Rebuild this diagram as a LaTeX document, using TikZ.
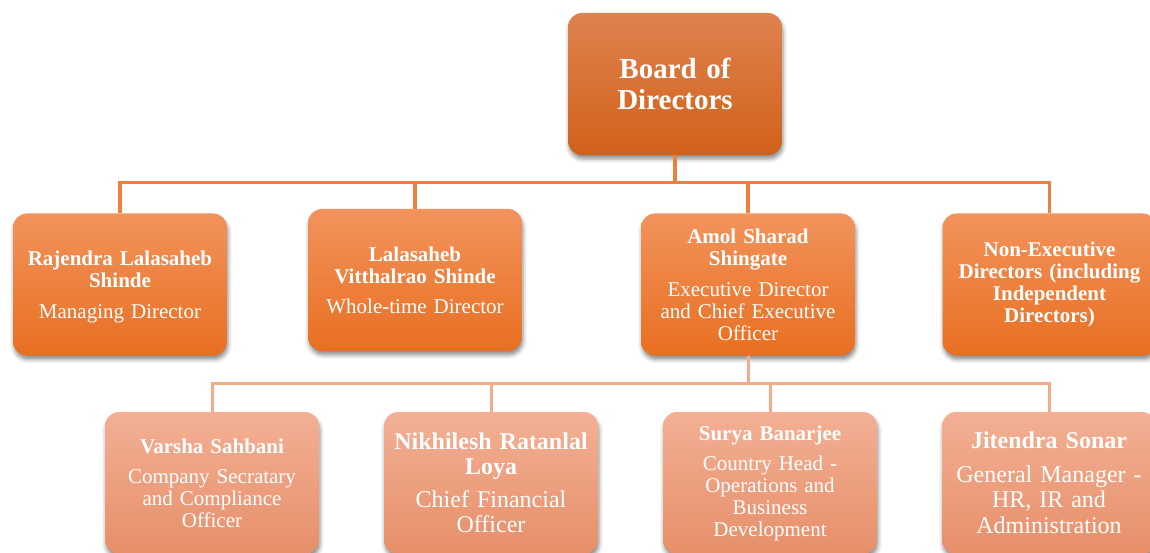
\documentclass[tikz,border=0pt]{standalone}
\usepackage{fontspec}
\setmainfont{Liberation Serif}
\usetikzlibrary{shadows.blur}
\definecolor{bodtop}{HTML}{DF824F}
\definecolor{bodbot}{HTML}{D1611A}
\definecolor{lvtop}{HTML}{F2935C}
\definecolor{lvbot}{HTML}{E86F21}
\definecolor{lwtop}{HTML}{F3B095}
\definecolor{lwbot}{HTML}{E68F69}
\definecolor{connA}{HTML}{EF7F3D}
\definecolor{connB}{HTML}{F2AC8A}
\tikzset{
  box/.style={rounded corners=14pt, minimum width=214pt, minimum height=142pt,
    inner sep=0pt, text=white, align=center, text width=200pt,
    blur shadow={shadow xshift=1pt, shadow yshift=-4pt, shadow blur radius=4pt, shadow opacity=45}},
  bodbox/.style={box, top color=bodtop, bottom color=bodbot},
  lvbox/.style={box, top color=lvtop, bottom color=lvbot, font=\fontsize{21}{22}\selectfont},
  lwbox/.style={box, top color=lwtop, bottom color=lwbot, font=\fontsize{21}{22}\selectfont},
  bigfont/.style={font=\fontsize{24}{25.5}\selectfont},
  connA/.style={draw=connA, line width=3.2pt},
  connB/.style={draw=connB, line width=3pt},
}
\begin{document}
\begin{tikzpicture}[x=1pt,y=-1pt]
\useasboundingbox (0,0) rectangle (1150,553);
% top
\node[bodbox, font=\fontsize{29}{31}\selectfont\bfseries] (bod) at (675,84) {Board of\\Directors};
% level 2
\node[lvbox] (r1) at (120,284.5) {\rule{0pt}{19pt}\textbf{Rajendra Lalasaheb}\\\textbf{Shinde}\\[9pt]Managing Director};
\node[lvbox] (r2) at (415,280) {\textbf{Lalasaheb}\\\textbf{Vitthalrao Shinde}\\[8pt]Whole-time Director};
\node[lvbox] (r3) at (748,284.5) {\textbf{Amol Sharad}\\\textbf{Shingate}\\[9pt]Executive Director\\and Chief Executive\\Officer};
\node[lvbox] (r4) at (1049.5,284.5) {\textbf{Non-Executive}\\\textbf{Directors (including}\\\textbf{Independent}\\\textbf{Directors)}};
% level 3
\node[lwbox] (s1) at (212,483) {\textbf{Varsha Sahbani}\\[8pt]Company Secratary\\and Compliance\\Officer};
\node[lwbox, bigfont] (s2) at (491,483) {\textbf{Nikhilesh Ratanlal}\\\textbf{Loya}\\[7pt]Chief Financial\\Officer};
\node[lwbox] (s3) at (770,483) {\textbf{Surya Banarjee}\\[8pt]Country Head -\\Operations and\\Business\\Development};
\node[lwbox, bigfont] (s4) at (1049,483) {\textbf{Jitendra Sonar}\\[8pt]General Manager -\\HR, IR and\\Administration};
% connectors level 1 -> 2
\coordinate (j1) at (675,182.5);
\draw[connA] (bod.south) -- (j1);
\draw[connA] (j1) -| (r1.north);
\draw[connA] (j1) -| (r2.north);
\draw[connA] (j1) -| (r3.north);
\draw[connA] (j1) -| (r4.north);
% connectors level 2 -> 3
\coordinate (j2) at (748,383.5);
\draw[connB] (r3.south) -- (j2);
\draw[connB] (j2) -| (s1.north);
\draw[connB] (j2) -| (s2.north);
\draw[connB] (j2) -| (s3.north);
\draw[connB] (j2) -| (s4.north);
\end{tikzpicture}
\end{document}
